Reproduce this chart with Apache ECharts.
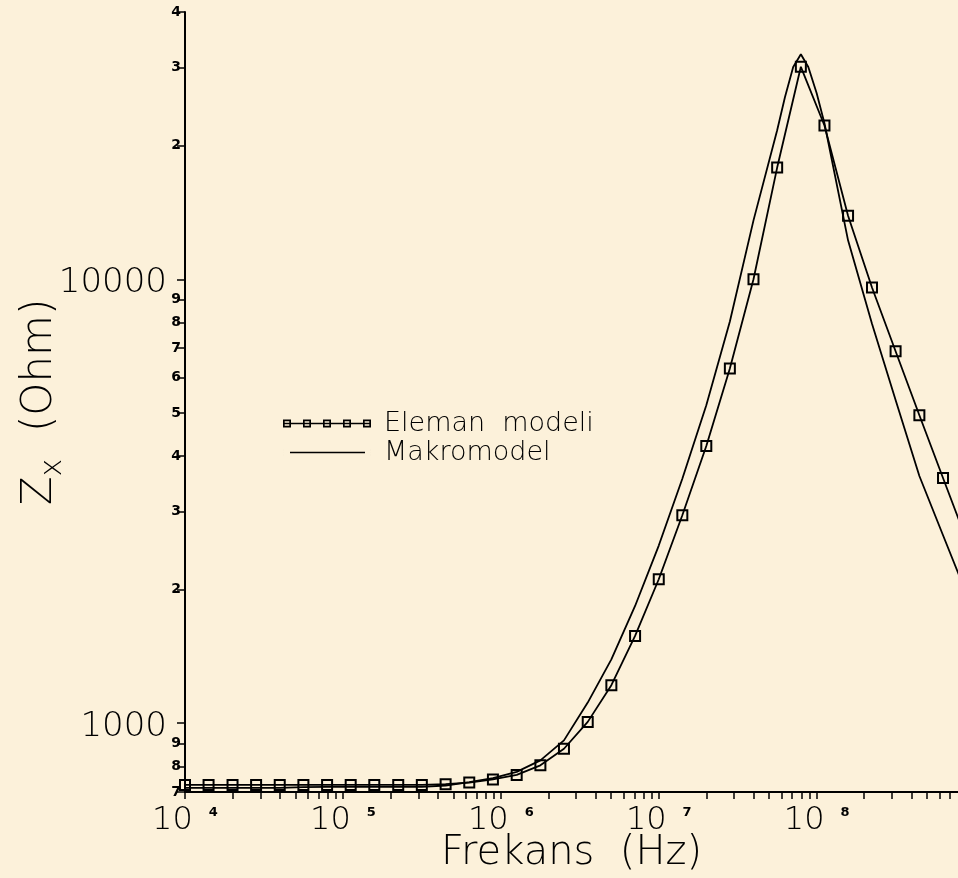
<!DOCTYPE html>
<html>
<head>
<meta charset="utf-8">
<title>Zx - Frekans</title>
<script src="https://cdn.jsdelivr.net/npm/echarts@6/dist/echarts.min.js"></script>
<style>
  html, body { margin: 0; padding: 0; background: #fcf1da; }
  #chart { width: 958px; height: 878px; }
</style>
</head>
<body>
<div id="chart"></div>
<script>
// frekans noktalari (Hz), eleman modeli
var elemanFreq = [1e4, 1.41e4, 2e4, 2.82e4, 3.98e4, 5.62e4, 7.94e4, 1.12e5, 1.58e5, 2.24e5, 3.16e5,
  4.47e5, 6.31e5, 8.91e5, 1.26e6, 1.78e6, 2.51e6, 3.55e6, 5.01e6, 7.08e6, 1e7, 1.41e7, 2e7,
  2.82e7, 3.98e7, 5.62e7, 7.94e7, 1.12e8, 1.58e8, 2.24e8, 3.16e8, 4.47e8, 6.31e8, 8.91e8];
var elemanZ = [726, 726, 726, 726, 726, 726, 726, 726, 726, 726, 726,
  729, 735, 747, 765, 804, 876, 1007, 1218, 1573, 2110, 2941, 4212,
  6293, 10000, 17850, 30100, 22200, 13900, 9580, 6884, 4940, 3568, 2580];

// makromodel
var makroFreq = [1e4, 1.41e4, 2e4, 2.82e4, 3.98e4, 5.62e4, 7.94e4, 1.12e5, 1.58e5, 2.24e5, 3.16e5,
  4.47e5, 6.31e5, 8.91e5, 1.26e6, 1.78e6, 2.51e6, 3.55e6, 5.01e6, 7.08e6, 1e7, 1.41e7, 2e7,
  2.82e7, 3.98e7, 5.62e7, 6.3e7, 7.1e7, 7.94e7, 8.85e7, 1e8, 1.12e8, 1.58e8, 2.24e8, 3.16e8,
  4.47e8, 6.31e8, 8.91e8];
var makroZ = [715, 715, 715, 715, 715, 718, 719, 719, 719, 719, 719,
  724, 737, 752, 777, 825, 915, 1113, 1393, 1837, 2513, 3553, 5205,
  8035, 13574, 21658, 25740, 30080, 32125, 30080, 26240, 22460, 12240, 7940, 5349,
  3605, 2651, 1952];

// eksen cizgileri ve etiketleri
var xTickValues = [1e4, 2e4, 3e4, 4e4, 5e4, 6e4, 7e4, 8e4, 9e4,
  1e5, 2e5, 3e5, 4e5, 5e5, 6e5, 7e5, 8e5, 9e5,
  1e6, 2e6, 3e6, 4e6, 5e6, 6e6, 7e6, 8e6, 9e6,
  1e7, 2e7, 3e7, 4e7, 5e7, 6e7, 7e7, 8e7, 9e7,
  1e8, 2e8, 3e8, 4e8, 5e8, 6e8, 7e8];
var xLabelValues = [1e4, 1e5, 1e6, 1e7, 1e8];
var xLabelExps = ['4', '5', '6', '7', '8'];
var yTickValues = [700, 800, 900, 1000, 2000, 3000, 4000, 5000, 6000, 7000, 8000, 9000,
  10000, 20000, 30000, 40000];
var yTickLabels = ['7', '8', '9', '1000', '2', '3', '4', '5', '6', '7', '8', '9',
  '10000', '2', '3', '4'];

function nearestIndex(arr, v) {
  var best = 0, d = Infinity;
  for (var i = 0; i < arr.length; i++) {
    var dd = Math.abs(Math.log(arr[i]) - Math.log(v));
    if (dd < d) { d = dd; best = i; }
  }
  return best;
}
function pairs(xs, ys) {
  return xs.map(function (x, i) { return [x, ys[i]]; });
}

var FONT = 'DejaVu Sans';
// legend ikonu: cizgi uzerinde 5 kare
var squaresIcon = 'path://M0,3.3 L88,3.3 L88,4.7 L0,4.7 Z' +
  ' M0,0 L8,0 L8,8 L0,8 Z M1.7,1.7 L1.7,6.3 L6.3,6.3 L6.3,1.7 Z' +
  ' M20,0 L28,0 L28,8 L20,8 Z M21.7,1.7 L21.7,6.3 L26.3,6.3 L26.3,1.7 Z' +
  ' M40,0 L48,0 L48,8 L40,8 Z M41.7,1.7 L41.7,6.3 L46.3,6.3 L46.3,1.7 Z' +
  ' M60,0 L68,0 L68,8 L60,8 Z M61.7,1.7 L61.7,6.3 L66.3,6.3 L66.3,1.7 Z' +
  ' M80,0 L88,0 L88,8 L80,8 Z M81.7,1.7 L81.7,6.3 L86.3,6.3 L86.3,1.7 Z';
var lineIcon = 'path://M7,3.2 L82,3.2 L82,4.8 L7,4.8 Z M0,0 L0.01,0 L0.01,8 L0,8 Z M88,0 L88.01,0 L88.01,8 L88,8 Z';

var chart = echarts.init(document.getElementById('chart'));
var option = {
  backgroundColor: '#fcf1da',
  animation: false,
  grid: { left: 185, right: 0, top: 12, bottom: 86, containLabel: false, outerBoundsMode: 'none' },
  legend: {
    orient: 'vertical',
    left: 278,
    top: 405,
    itemWidth: 88,
    itemHeight: 9,
    itemGap: 2,
    itemStyle: { color: '#000', borderWidth: 0 },
    textStyle: { color: '#000', fontFamily: FONT, fontWeight: 200, fontSize: 27, lineHeight: 24, padding: [0, 0, 0, 8] },
    data: [
      { name: 'Eleman  modeli', icon: squaresIcon },
      { name: 'Makromodel', icon: lineIcon }
    ]
  },
  xAxis: {
    type: 'log',
    logBase: 10,
    min: 1e4,
    max: 7.85e8,
    name: 'Frekans  (Hz)',
    nameLocation: 'middle',
    nameGap: 42,
    nameMoveOverlap: false,
    nameTextStyle: { color: '#000', fontFamily: FONT, fontWeight: 200, fontSize: 40 },
    axisLine: { lineStyle: { color: '#000', width: 2 } },
    axisTick: { show: true, length: 7, lineStyle: { color: '#000', width: 1.5 }, customValues: xTickValues },
    minorTick: { show: false },
    splitLine: { show: false },
    axisLabel: {
      customValues: xLabelValues,
      margin: 14,
      color: '#000',
      formatter: function (v) {
        return '{big|10}{sup|' + xLabelExps[nearestIndex(xLabelValues, v)] + '}';
      },
      rich: {
        big: { fontFamily: FONT, fontWeight: 200, fontSize: 32, lineHeight: 30, color: '#000' },
        sup: { fontFamily: FONT, fontWeight: 'bold', fontSize: 13, lineHeight: 30, verticalAlign: 'top', padding: [0, 0, 0, 16], color: '#000' }
      }
    }
  },
  yAxis: {
    type: 'log',
    logBase: 10,
    min: 700,
    max: 40000,
    name: '{z|Z}{sub|x}{n|  (Ohm)}',
    nameLocation: 'middle',
    nameGap: 123,
    nameMoveOverlap: false,
    nameRotate: 90,
    nameTextStyle: {
      rich: {
        z: { fontFamily: FONT, fontWeight: 200, fontSize: 42, color: '#000', lineHeight: 44 },
        sub: { fontFamily: FONT, fontWeight: 200, fontSize: 30, color: '#000', lineHeight: 44, verticalAlign: 'bottom', padding: [0, 0, -6, 0] },
        n: { fontFamily: FONT, fontWeight: 200, fontSize: 42, color: '#000', lineHeight: 44 }
      }
    },
    axisLine: { lineStyle: { color: '#000', width: 2 } },
    axisTick: { show: true, length: 8, lineStyle: { color: '#000', width: 1.5 }, customValues: yTickValues },
    minorTick: { show: false },
    splitLine: { show: false },
    axisLabel: {
      customValues: yTickValues,
      margin: 4,
      color: '#000',
      formatter: function (v) {
        var s = yTickLabels[nearestIndex(yTickValues, v)];
        return s.length > 1 ? '{big|' + s + '}' : '{small|' + s + '}';
      },
      rich: {
        big: { fontFamily: FONT, fontWeight: 200, fontSize: 34, color: '#000', padding: [8, 14, 0, 0] },
        small: { fontFamily: FONT, fontWeight: 'bold', fontSize: 14, color: '#000' }
      }
    }
  },
  series: [
    {
      name: 'Makromodel',
      type: 'line',
      data: pairs(makroFreq, makroZ),
      showSymbol: false,
      symbol: 'none',
      lineStyle: { color: '#000', width: 1.8 },
      itemStyle: { color: '#000' },
      z: 2
    },
    {
      name: 'Eleman  modeli',
      type: 'line',
      data: pairs(elemanFreq, elemanZ),
      symbol: 'rect',
      symbolSize: 10,
      showAllSymbol: true,
      lineStyle: { color: '#000', width: 1.8 },
      itemStyle: { color: 'rgba(0,0,0,0)', borderColor: '#000', borderWidth: 2 },
      z: 3
    }
  ]
};
chart.setOption(option);
</script>
</body>
</html>
